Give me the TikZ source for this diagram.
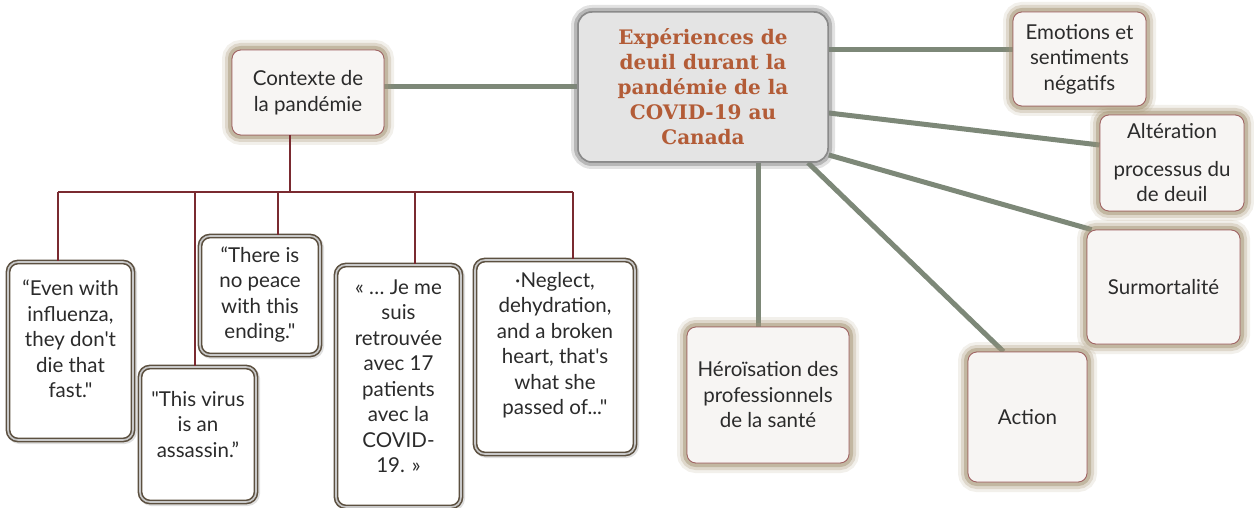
\documentclass[tikz,border=0pt]{standalone}
\usepackage{fontspec}
\setmainfont{Lato}[Ligatures=TeXOff]
\newfontfamily\titlefont{DejaVu Serif}
\definecolor{boxfill}{HTML}{F7F5F3}
\definecolor{boxborder}{HTML}{A06464}
\definecolor{halo}{HTML}{A89878}
\definecolor{qborder}{HTML}{5C5040}
\definecolor{qinner}{HTML}{C8C8C8}
\definecolor{gline}{HTML}{7D8878}
\definecolor{tline}{HTML}{7A2A30}
\definecolor{mainfill}{HTML}{E4E4E4}
\definecolor{mainborder}{HTML}{8A8A8A}
\definecolor{titlecol}{HTML}{B35C37}
\definecolor{txt}{HTML}{2B2B2B}
\tikzset{
  catbox/.style={draw=boxborder, line width=0.8pt, fill=boxfill, rounded corners=9pt,
    preaction={draw=halo, line width=20pt, opacity=0.08, rounded corners=9pt},
    preaction={draw=halo, line width=14pt, opacity=0.15, rounded corners=9pt},
    preaction={draw=halo, line width=8pt, opacity=0.3, rounded corners=9pt},
    text=txt, align=center, inner sep=0pt, font=\fontsize{20.5}{25.5}\selectfont},
  quotebox/.style={draw=qborder, line width=1.6pt, fill=white, rounded corners=10pt,
    double=qinner, double distance=1.6pt, inner sep=0pt,
    preaction={draw=gray, line width=5pt, opacity=0.25, rounded corners=10pt, transform canvas={xshift=1.5pt,yshift=-1.5pt}}},
  qtext/.style={text=txt, align=center, inner sep=0pt, font=\fontsize{20.5}{25.5}\selectfont},
  mainbox/.style={draw=mainborder, line width=1.5pt, fill=mainfill, rounded corners=14pt,
    preaction={draw=gray, line width=14pt, opacity=0.12, rounded corners=14pt},
    preaction={draw=gray, line width=8pt, opacity=0.25, rounded corners=14pt},
    text=titlecol, align=center, inner sep=0pt,
    font=\titlefont\bfseries\fontsize{20}{25}\selectfont},
  gconn/.style={draw=gline, line width=5pt},
  tconn/.style={draw=tline, line width=1.8pt}
}
\begin{document}
\begin{tikzpicture}[x=1pt,y=-1pt]
\useasboundingbox (0,0) rectangle (1254,508);
% nodes (placed first to name them)
\node[mainbox, minimum width=250pt, minimum height=150pt] (main) at (703,87) {};
\node[catbox, minimum width=152pt, minimum height=85pt] (ctx) at (308,92.5) {};
\node[catbox, minimum width=133pt, minimum height=94pt] (emo) at (1079.5,59) {};
\node[catbox, minimum width=144pt, minimum height=96pt] (alt) at (1172,163) {};
\node[catbox, minimum width=153pt, minimum height=114pt] (sur) at (1163.5,287) {};
\node[catbox, minimum width=119pt, minimum height=130pt] (act) at (1027.5,417) {};
\node[catbox, minimum width=162pt, minimum height=136pt] (her) at (768,395) {};

% gray connectors
\coordinate (cA) at (main.south -| 758,0);
\coordinate (cB) at (her.north -| 758,0);
\draw[gconn] (main.west -| ctx.east) -- (main.west);
\draw[gconn] ([yshift=9pt]emo.west -| main.east) -- ([yshift=9pt]emo.west);
\draw[gconn] ([yshift=-26pt]main.east) -- ([yshift=18pt]alt.west);
\draw[gconn] ([yshift=-68pt]main.east) -- ([xshift=5pt]sur.north west);
\draw[gconn] ([xshift=105pt]main.south) -- ([xshift=-24pt]act.north);
\draw[gconn] (cA) -- (cB);

% boxes with text on top of connectors
\node[mainbox, minimum width=250pt, minimum height=150pt] (mainT) at (main) {Expériences de\\deuil durant la\\pandémie de la\\COVID-19 au\\Canada};
\node[catbox, minimum width=152pt, minimum height=85pt] (ctxT) at (ctx) {Contexte de\\la pandémie};
\node[catbox, minimum width=133pt, minimum height=94pt] (emoT) at (emo) {Emotions et\\sentiments\\négatifs};
\node[catbox, minimum width=144pt, minimum height=96pt] (altT) at (alt) {Altération\\[12pt]processus du\\de deuil};
\node[catbox, minimum width=153pt, minimum height=114pt] (surT) at (sur) {Surmortalité};
\node[catbox, minimum width=119pt, minimum height=130pt] (actT) at (act) {Action};
\node[catbox, minimum width=162pt, minimum height=136pt] (herT) at (her) {Héroïsation des\\professionnels\\de la santé};

% quote boxes
\node[quotebox, minimum width=125pt, minimum height=178pt] (q1) at (70.5,351) {};
\node[quotebox, minimum width=116pt, minimum height=135pt] (q2) at (198,434.5) {};
\node[quotebox, minimum width=120pt, minimum height=119pt] (q3) at (260,295.5) {};
\node[quotebox, minimum width=125pt, minimum height=242pt] (q4) at (398.5,386) {};
\node[quotebox, minimum width=160pt, minimum height=194pt] (q5) at (555,357) {};

\node[qtext] (q1t) at ([yshift=12pt]q1.center) {“Even with\\influenza,\\they don't\\die that\\fast."};
\node[qtext] (q2t) at ([yshift=10pt]q2.center) {"This virus\\is an\\assassin.”};
\node[qtext] (q3t) at ([yshift=1pt]q3.center) {“There is\\no peace\\with this\\ending."};
\node[qtext] (q4t) at ([yshift=10pt]q4.center) {« … Je me\\suis\\retrouvée\\avec 17\\patients\\avec la\\COVID-\\19. »};
\node[qtext] (q5t) at ([yshift=12pt]q5.center) {·Neglect,\\dehydration,\\and a broken\\heart, that's\\what she\\passed of..."};

% tree connectors
\coordinate (top) at (ctx.south -| 290,0);
\coordinate (hub) at (290,192);
\coordinate (h1) at (58,192);
\coordinate (h2) at (195,192);
\coordinate (h3) at (278,192);
\coordinate (h4) at (415,192);
\coordinate (h5) at (573,192);
\draw[tconn] (top) -- (hub);
\draw[tconn] (h1) -- (h5);
\draw[tconn] (h1) -- (q1.north -| h1);
\draw[tconn] (h2) -- (q2.north -| h2);
\draw[tconn] (h3) -- (q3.north -| h3);
\draw[tconn] (h4) -- (q4.north -| h4);
\draw[tconn] (h5) -- (q5.north -| h5);
\end{tikzpicture}
\end{document}
